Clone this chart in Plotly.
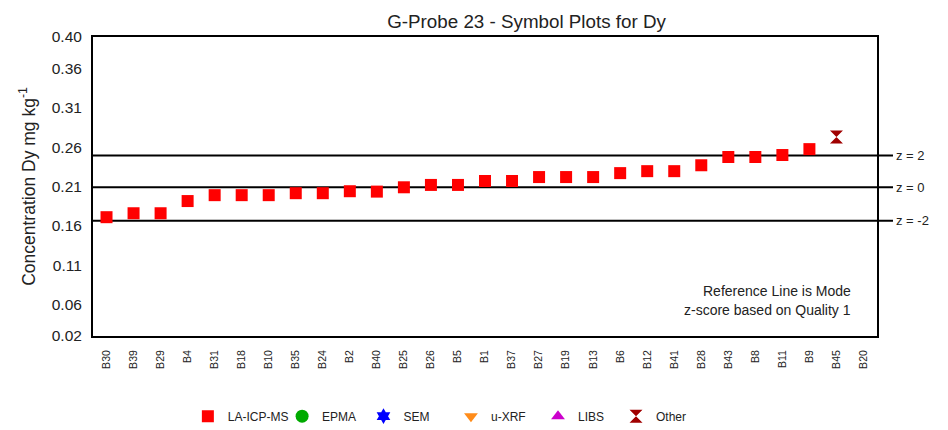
import plotly.graph_objects as go

# ---- data ----
categories = ["B30", "B39", "B29", "B4", "B31", "B18", "B10", "B35", "B24", "B2",
              "B40", "B25", "B26", "B5", "B1", "B37", "B27", "B19", "B13", "B6",
              "B12", "B41", "B28", "B43", "B8", "B11", "B9", "B45", "B20"]

la_icp_ms_x = ["B30", "B39", "B29", "B4", "B31", "B18", "B10", "B35", "B24", "B2",
               "B40", "B25", "B26", "B5", "B1", "B37", "B27", "B19", "B13", "B6",
               "B12", "B41", "B28", "B43", "B8", "B11", "B9"]
la_icp_ms_y = [0.171, 0.176, 0.176, 0.1915, 0.199, 0.199, 0.199, 0.2015, 0.2015, 0.204,
               0.2035, 0.209, 0.212, 0.212, 0.217, 0.217, 0.222, 0.222, 0.222, 0.227,
               0.2295, 0.2295, 0.237, 0.2475, 0.2475, 0.25, 0.2575]

other_x = ["B45"]
other_y = [0.273]

z_levels = [0.2495, 0.209, 0.1665]
z_labels = ["z = 2", "z = 0", "z = -2"]

y_ticks = [0.02, 0.06, 0.11, 0.16, 0.21, 0.26, 0.31, 0.36, 0.40]
y_tick_text = ["0.02", "0.06", "0.11", "0.16", "0.21", "0.26", "0.31", "0.36", "0.40"]

FONT = "Liberation Sans, Arial, sans-serif"

fig = go.Figure()

# name, x, y, symbol, colour, size, legend id, legend x (paper)
series = [
    ("LA-ICP-MS", la_icp_ms_x, la_icp_ms_y, "square", "#ff0000", 12, "legend", 0.1210),
    ("EPMA", [None], [None], "circle", "#00aa00", 13, "legend2", 0.2412),
    ("SEM", [None], [None], "hexagram", "#0000ff", 12, "legend3", 0.3450),
    ("u-XRF", [None], [None], "triangle-down", "#ff8c1a", 12, "legend4", 0.4566),
    ("LIBS", [None], [None], "triangle-up", "#cc00cc", 12, "legend5", 0.5676),
    ("Other", other_x, other_y, "hourglass", "#a00000", 13, "legend6", 0.6671),
]

legend_layout = {}
for name, xs, ys, sym, col, sz, lg, lx in series:
    fig.add_trace(go.Scatter(
        x=xs, y=ys, mode="markers", name=name,
        marker=dict(symbol=sym, color=col, size=sz, line=dict(width=0)),
        showlegend=True, legend=lg,
    ))
    legend_layout[lg] = dict(orientation="h", yanchor="middle", y=-0.268, xanchor="left",
                             x=lx, font=dict(family=FONT, size=12, color="#222222"),
                             bgcolor="rgba(0,0,0,0)", borderwidth=0, itemwidth=30,
                             visible=True)

for lvl, lab in zip(z_levels, z_labels):
    fig.add_shape(type="line", xref="paper", yref="y", x0=0, x1=1.0204, y0=lvl, y1=lvl,
                  line=dict(color="black", width=2), layer="below")
    fig.add_annotation(xref="paper", yref="y", x=1.0215, y=lvl, text=lab, showarrow=False,
                       xanchor="left", yanchor="middle",
                       font=dict(family=FONT, size=13, color="#222222"))

fig.add_annotation(xref="paper", yref="paper", x=0.9695, y=(336 - 290.7) / 299,
                   text="Reference Line is Mode", showarrow=False, xanchor="right",
                   yanchor="middle", font=dict(family=FONT, size=14, color="#222222"))
fig.add_annotation(xref="paper", yref="paper", x=0.9695, y=(336 - 310) / 299,
                   text="z-score based on Quality 1", showarrow=False, xanchor="right",
                   yanchor="middle", font=dict(family=FONT, size=14, color="#222222"))

# page body adds an 8px margin, so the figure is 940x422 and offsets are reduced by 8px
fig.update_layout(
    width=940, height=422,
    margin=dict(l=85, r=71, t=29, b=94, autoexpand=False),
    paper_bgcolor="white", plot_bgcolor="white",
    font=dict(family=FONT, color="#222222"),
    showlegend=True,
    title=dict(text="G-Probe 23 - Symbol Plots for Dy", x=0.553, xref="paper", xanchor="center",
               y=1 - 13 / 422, yref="container", yanchor="middle",
               font=dict(family=FONT, size=18.8, color="#222222")),
    xaxis=dict(type="category", categoryorder="array", categoryarray=categories,
               tickmode="array", tickvals=categories, ticktext=categories,
               range=[-0.5, len(categories) - 0.5], tickangle=-90,
               tickfont=dict(family=FONT, size=10.5, color="#222222"),
               showgrid=False, zeroline=False, showline=True, linecolor="black",
               linewidth=2, mirror=True, ticks="", ticklabelstandoff=8),
    yaxis=dict(range=[0.02, 0.40], tickmode="array", tickvals=y_ticks, ticktext=y_tick_text,
               tickfont=dict(family=FONT, size=15.5, color="#222222"),
               showgrid=False, zeroline=False, showline=True, linecolor="black",
               linewidth=2, mirror=True, ticks="", ticklabelstandoff=6,
               title=dict(text="Concentration Dy mg kg<sup>-1</sup>", standoff=12,
                          font=dict(family=FONT, size=17.5, color="#222222"))),
    **legend_layout,
)

fig.write_html("out.html")
